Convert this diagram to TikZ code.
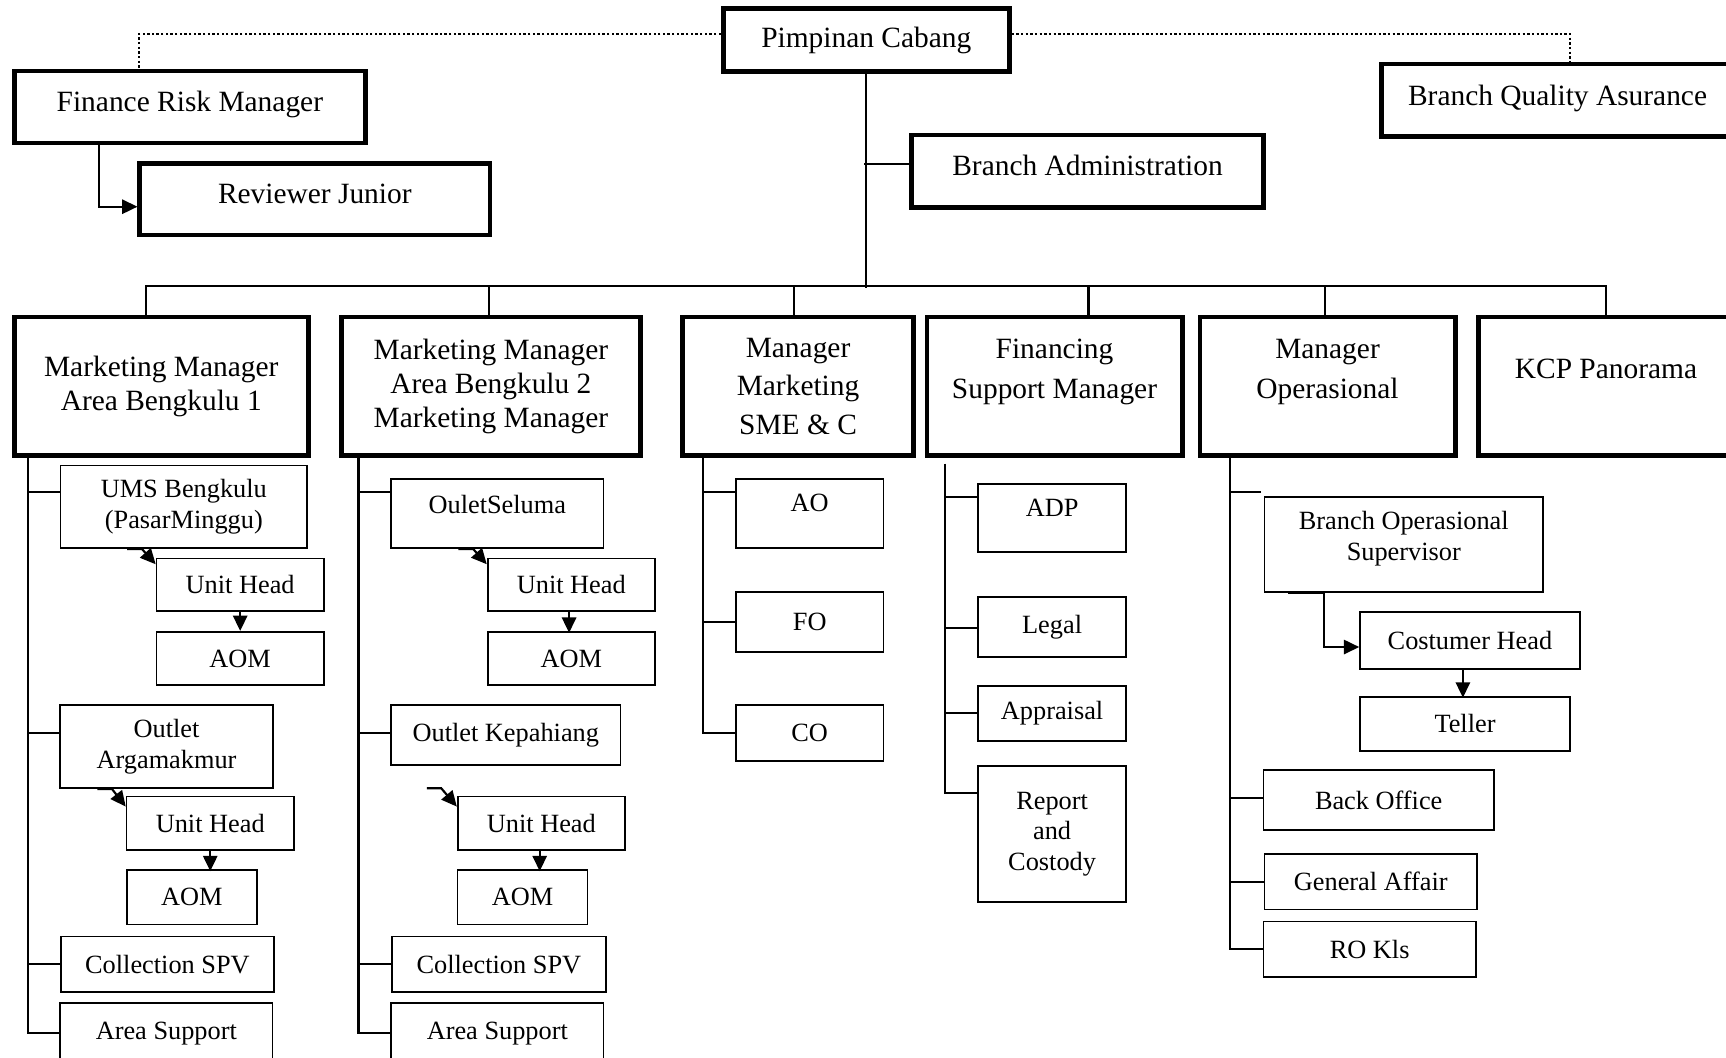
\documentclass[tikz,border=0pt]{standalone}
\usepackage{fontspec}
\setmainfont{Liberation Serif}
\usetikzlibrary{arrows.meta}

\newcommand{\lifted}[2]{\raisebox{#1}[\height][\depth]{\begin{tabular}{@{}c@{}}#2\end{tabular}}}

\tikzset{
  bigbox/.style={draw, line width=1.2pt, align=center, inner sep=1pt, font=\fontsize{7.6}{8.8}\selectfont},
  smallbox/.style={draw, line width=0.45pt, align=center, inner sep=1pt, font=\fontsize{6.8}{7.9}\selectfont},
  wh/.style 2 args={minimum width=#1*0.01cm, minimum height=#2*0.01cm},
  link/.style={line width=0.55pt},
  arr/.style={link, -{Triangle[length=0.14cm,width=0.13cm]}},
  dots/.style={line width=0.5pt, dash pattern=on 0.6pt off 0.6pt}
}

\begin{document}
\begin{tikzpicture}[x=0.01cm, y=-0.01cm]
  \useasboundingbox (0,0) rectangle (1568,961);

  % top level
  \node[bigbox, wh={260}{57}] (pc) at (787,36.5) {Pimpinan Cabang};
  \node[bigbox, wh={319}{65.5}] (frm) at (172.5,97.3) {\lifted{0.02cm}{Finance Risk Manager}};
  \node[bigbox, wh={318}{65}] (rj) at (286,181) {\lifted{0.02cm}{Reviewer Junior}};
  \node[bigbox, wh={320}{65.7}] (ba) at (988,155.5) {\lifted{0.02cm}{Branch Administration}};
  \node[bigbox, wh={320}{66}] (bqa) at (1415,91.3) {\lifted{0.02cm}{Branch Quality Asurance}};
  \draw[dots] ([shift={(0,-6)}]pc.west) -| ([shift={(-45.8,0)}]frm.north);
  \draw[dots] ([shift={(0,-6)}]pc.east) -| ([shift={(11,0)}]bqa.north);
  \draw[arr] ([shift={(-82.3,0)}]frm.south) |- ([shift={(0,6.8)}]rj.west);
  \coordinate (bus) at (787,262);
  \draw[link] (pc.south) -- (bus);
  \draw[link] ([shift={(0,-6.5)}]ba.west) -- ++(-41,0);

  % managers
  \node[bigbox, wh={267}{126}] (mm1) at (146.5,351) {Marketing Manager\\Area Bengkulu 1};
  \node[bigbox, wh={272}{126}] (mm2) at (446,351) {Marketing Manager\\Area Bengkulu 2\\Marketing Manager};
  \node[bigbox, wh={210}{126}, font=\fontsize{7.6}{9.9}\selectfont] (sme) at (725,351) {Manager\\Marketing\\SME \& C};
  \node[bigbox, wh={232}{126}] (fsm) at (958,351) {\lifted{0.135cm}{Financing\\[1.4pt]Support Manager}};
  \node[bigbox, wh={232}{126}] (mo) at (1206,351) {\lifted{0.135cm}{Manager\\[1.4pt]Operasional}};
  \node[bigbox, wh={232}{126}] (kcp) at (1459,351) {\lifted{0.135cm}{KCP Panorama}};
  \draw[link] ([shift={(-13.5,0)}]mm1.north) -- ++(0,-26) -| (kcp.north);
  \foreach \n/\dx in {mm2/-2, sme/-4, fsm/30.8, mo/-2}
    \draw[link] ([shift={(\dx,0)}]\n.north) -- ++(0,-26);

  % area bengkulu 1
  \coordinate (t1) at ([shift={(-121.3,0)}]mm1.south);
  \node[smallbox, wh={224}{75}] (ums) at (167,460.5) {UMS Bengkulu\\(PasarMinggu)};
  \node[smallbox, wh={152}{48}] (uh1) at (218.2,531.4) {Unit Head};
  \node[smallbox, wh={152}{48.4}] (aom1) at (218.2,598.2) {AOM};
  \node[smallbox, wh={193}{75.5}] (oa) at (151.3,678.3) {Outlet\\Argamakmur};
  \node[smallbox, wh={152}{48.7}] (uh2) at (191,747.9) {Unit Head};
  \node[smallbox, wh={118}{49.2}] (aom2) at (174.2,815.2) {AOM};
  \node[smallbox, wh={193}{50.4}] (cs1) at (152.1,876) {Collection SPV};
  \node[smallbox, wh={193}{54.7}] (as1) at (151.1,938.6) {Area Support};
  \draw[link] (t1) |- (as1.west);
  \foreach \n/\dy in {ums/-13.2, oa/-12.3, cs1/0} {
    \coordinate (in) at ([shift={(0,\dy)}]\n.west);
    \draw[link] (in) -- (in -| t1);
  }
  \draw[arr] ([shift={(-51.4,0)}]ums.south) -- ++(13.4,0) -- ([shift={(0,6)}]uh1.north west);
  \draw[arr] (uh1.south) -- (aom1.north);
  \draw[arr] ([shift={(-62.9,0)}]oa.south) -- ++(13.4,0) -- ([shift={(0,10)}]uh2.north west);
  \draw[arr] (uh2.south) -- ++(0,18.4);

  % area bengkulu 2
  \coordinate (t2) at ([shift={(-120.3,0)}]mm2.south);
  \node[smallbox, wh={193}{63}] (os) at (451.8,466.5) {\lifted{0.06cm}{OuletSeluma}};
  \node[smallbox, wh={152}{48}] (uh3) at (519,531.4) {Unit Head};
  \node[smallbox, wh={152}{48.4}] (aom3) at (519,598.2) {AOM};
  \node[smallbox, wh={208.5}{54.8}] (okp) at (459.5,667.9) {Outlet Kepahiang};
  \node[smallbox, wh={152}{48.7}] (uh4) at (491.8,747.9) {Unit Head};
  \node[smallbox, wh={118}{49.2}] (aom4) at (474.7,815.2) {AOM};
  \node[smallbox, wh={194.3}{50.4}] (cs2) at (453.2,876) {Collection SPV};
  \node[smallbox, wh={193}{54.7}] (as2) at (451.8,938.6) {Area Support};
  \coordinate (k0) at ([shift={(-27.2,-6.7)}]uh4.north west);
  \draw[link] (t2) |- (as2.west);
  \foreach \n/\dy in {os/-19.2, okp/-1.9, cs2/0} {
    \coordinate (in) at ([shift={(0,\dy)}]\n.west);
    \draw[link] (in) -- (in -| t2);
  }
  \draw[arr] ([shift={(-35.3,0)}]os.south) -- ++(13.4,0) -- ([shift={(0,6)}]uh3.north west);
  \draw[arr] ([shift={(-2,0)}]uh3.south) -- ++(0,18.7);
  \draw[arr] (k0) -- ++(13,0) -- ([shift={(0,10)}]uh4.north west);
  \draw[arr] ([shift={(-1.5,0)}]uh4.south) -- ++(0,18.4);

  % sme
  \coordinate (t3) at ([shift={(-86.1,0)}]sme.south);
  \node[smallbox, wh={134.2}{62.8}] (ao) at (735.6,466.4) {\lifted{0.07cm}{AO}};
  \node[smallbox, wh={134.2}{54.8}] (fo) at (735.6,565.2) {FO};
  \node[smallbox, wh={134.2}{50.5}] (co) at (735.6,665.8) {CO};
  \draw[link] (t3) |- (co.west);
  \foreach \n/\dy in {ao/-19.1, fo/0} {
    \coordinate (in) at ([shift={(0,\dy)}]\n.west);
    \draw[link] (in) -- (in -| t3);
  }

  % financing support
  \coordinate (t4) at ([shift={(-99.2,5)}]fsm.south);
  \node[smallbox, wh={134.2}{62.3}] (adp) at (955.8,470.6) {\lifted{0.07cm}{ADP}};
  \node[smallbox, wh={134.2}{54.4}] (legal) at (955.8,569.4) {Legal};
  \node[smallbox, wh={134.2}{50.1}] (appr) at (955.8,648) {Appraisal};
  \node[smallbox, wh={134.2}{123.7}] (rc) at (955.8,757.8) {Report\\and\\Costody};
  \draw[link] (t4) |- ([shift={(0,-37.4)}]rc.west);
  \foreach \n/\dy in {adp/-18.9, legal/0.8, appr/0} {
    \coordinate (in) at ([shift={(0,\dy)}]\n.west);
    \draw[link] (in) -- (in -| t4);
  }

  % operasional
  \coordinate (t5) at ([shift={(-88.9,0)}]mo.south);
  \node[smallbox, wh={253}{86.1}] (bos) at (1275.3,494.8) {\lifted{0.05cm}{Branch Operasional\\Supervisor}};
  \node[smallbox, wh={199.6}{51.9}] (ch) at (1335.4,581.7) {Costumer Head};
  \node[smallbox, wh={190.6}{49.2}] (tel) at (1330.9,657.6) {Teller};
  \node[smallbox, wh={209.3}{54.9}] (bo) at (1252.5,726.8) {Back Office};
  \node[smallbox, wh={193}{50.5}] (ga) at (1245.3,801) {General Affair};
  \node[smallbox, wh={193}{50.1}] (ro) at (1244.3,862.3) {RO Kls};
  \draw[link] (t5) |- (ro.west);
  \foreach \n/\dx/\dy in {bos/-2.3/-47.5, bo/0/-2.1, ga/0/0.2} {
    \coordinate (in) at ([shift={(\dx,\dy)}]\n.west);
    \draw[link] (in) -- (in -| t5);
  }
  \draw[arr] ([shift={(-105.1,0)}]bos.south) -- ++(32.6,0) |- ([shift={(0,6.1)}]ch.west);
  \draw[arr] ([shift={(-6.4,0)}]ch.south) -- ++(0,25.4);
\end{tikzpicture}
\end{document}
